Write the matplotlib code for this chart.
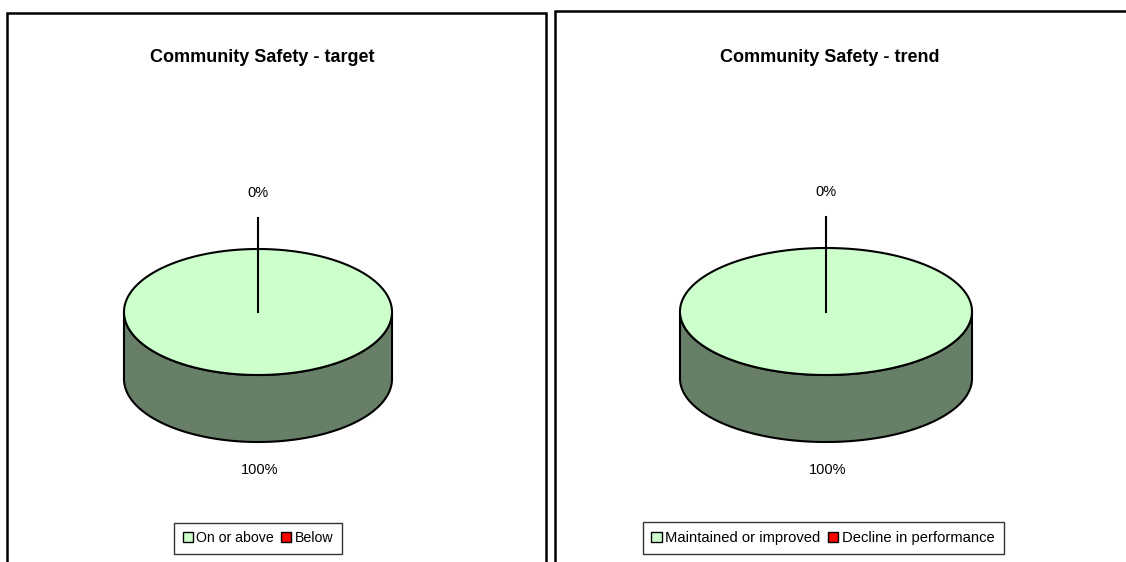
import numpy as np
import matplotlib
matplotlib.use("Agg")
import matplotlib.pyplot as plt
from matplotlib.patches import Polygon, Patch

# ---- data ----
titles = ["Community Safety - target", "Community Safety - trend"]
labels_left = ["On or above", "Below"]
labels_right = ["Maintained or improved", "Decline in performance"]
values_left = [100, 0]
values_right = [100, 0]

top_colors = ["#CCFFCC", "#FF0000"]
side_colors = ["#677F66", "#7F0000"]

FONT = ["Liberation Sans", "DejaVu Sans"]

W, H = 1126, 562
fig = plt.figure(figsize=(W / 100, H / 100), dpi=100)
ax = fig.add_axes([0, 0, 1, 1])
ax.set_xlim(0, W)
ax.set_ylim(H, 0)
ax.axis("off")

# panel borders (open at bottom / right as in reference)
ax.plot([7, 7, 546, 546], [600, 12.5, 12.5, 600], color="black", lw=1.8, solid_joinstyle="miter")
ax.plot([555, 555, 1140], [600, 11, 11], color="black", lw=1.8, solid_joinstyle="miter")


def draw_pie(values, cx, cy, rx, ry, depth):
    total = float(sum(values))
    fracs = [v / total for v in values]
    start = 90.0
    t = start
    for frac, tc, sc in zip(fracs, top_colors, side_colors):
        if frac <= 0:
            continue
        t1, t2 = t - 360 * frac, t
        th = np.radians(np.linspace(t1, t2, 400))
        front = th[np.sin(th) <= 1e-9]
        if len(front) > 1:
            xs = cx + rx * np.cos(front)
            ys = cy - ry * np.sin(front)
            pts = np.vstack([np.column_stack([xs, ys]),
                             np.column_stack([xs[::-1], ys[::-1] + depth])])
            ax.add_patch(Polygon(pts, closed=True, facecolor=sc, edgecolor="black", lw=1.5, zorder=2))
        xs = cx + rx * np.cos(th)
        ys = cy - ry * np.sin(th)
        if frac < 1:
            pts = np.vstack([[cx, cy], np.column_stack([xs, ys])])
        else:
            pts = np.column_stack([xs, ys])
        ax.add_patch(Polygon(pts, closed=True, facecolor=tc, edgecolor="black", lw=1.5, zorder=3))
        t = t1
    # labels
    t = start
    for frac in fracs:
        mid = np.radians(t - 180 * frac)
        pct = f"{frac * 100:.0f}%"
        if np.sin(mid) >= 0:
            lx = cx + rx * np.cos(mid)
            ly = cy - (ry + 56) * np.sin(mid)
            ax.plot([cx, cx], [cy, ly + 25], color="black", lw=1.5, zorder=4)
            ax.text(lx, ly, pct, ha="center", va="center", fontsize=10.5, family=FONT, zorder=5)
        else:
            lx = cx + rx * np.cos(mid)
            ly = cy + depth + ry + 28
            ax.text(lx + 2, ly, pct, ha="center", va="center", fontsize=10.5, family=FONT, zorder=5)
        t -= 360 * frac


draw_pie(values_left, 258, 312, 134, 63, 67)
draw_pie(values_right, 826, 311.5, 146, 63.5, 67)

ax.text(262, 58, titles[0], ha="center", va="center", fontsize=13, fontweight="bold", family=FONT)
ax.text(830, 57, titles[1], ha="center", va="center", fontsize=13, fontweight="bold", family=FONT)


def legend(labels, x, y, fs):
    handles = [Patch(facecolor=c, edgecolor="black", lw=1.0) for c in top_colors]
    lg = fig.legend(handles, labels, loc="center", bbox_to_anchor=(x / W, 1 - y / H),
                    ncol=2, frameon=True, fancybox=False, prop={"family": FONT, "size": fs},
                    handlelength=0.7, handleheight=0.7, handletextpad=0.25, columnspacing=0.5,
                    borderpad=0.6, borderaxespad=0)
    fr = lg.get_frame()
    fr.set_edgecolor("black")
    fr.set_linewidth(1.0)


legend(labels_left, 258, 538, 10.2)
legend(labels_right, 823, 538, 10.6)

fig.savefig("out.png", dpi=100)
